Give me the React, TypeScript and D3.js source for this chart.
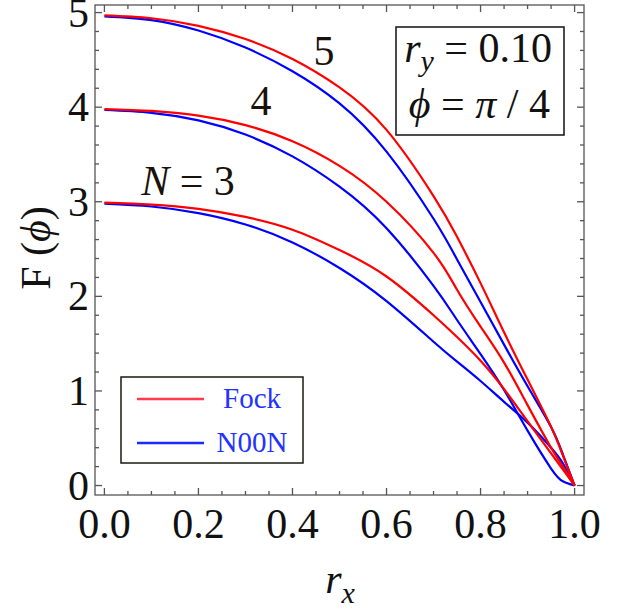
import React, { useRef, useEffect } from "react";
import * as d3 from "d3";

// r_x sample points shared by every curve
const rGrid = [0, 0.1, 0.2, 0.3, 0.4, 0.5, 0.6, 0.7, 0.75, 0.8, 0.85, 0.9, 0.95, 0.975, 1];

// Fock states (red)
const fock3 = [2.99, 2.97, 2.925, 2.84, 2.705, 2.49, 2.21, 1.8, 1.57, 1.32, 1.02, 0.68, 0.34, 0.17, 0];
const fock4 = [3.98, 3.96, 3.91, 3.81, 3.64, 3.38, 3.0, 2.46, 2.07, 1.68, 1.3, 0.85, 0.4, 0.2, 0];
const fock5 = [4.97, 4.94, 4.86, 4.72, 4.51, 4.21, 3.76, 3.06, 2.63, 2.14, 1.62, 1.12, 0.62, 0.32, 0];

// N00N states (blue)
const noon3 = [2.98, 2.95, 2.88, 2.76, 2.57, 2.3, 1.95, 1.52, 1.31, 1.105, 0.885, 0.665, 0.4, 0.235, 0];
const noon4 = [3.97, 3.94, 3.86, 3.71, 3.48, 3.16, 2.72, 2.11, 1.75, 1.39, 1.01, 0.58, 0.18, 0.045, 0];
const noon5 = [4.96, 4.92, 4.81, 4.63, 4.38, 4.04, 3.53, 2.82, 2.39, 1.94, 1.49, 1.05, 0.62, 0.33, 0];

const xTicks = [0, 0.2, 0.4, 0.6, 0.8, 1.0];
const yTicks = [0, 1, 2, 3, 4, 5];
const legendLabels = ["Fock", "N00N"];

const RED = "#ff0000";
const BLUE = "#0000ff";
const FONT =
  "'Liberation Serif', 'Times New Roman', Times, Tinos, 'Nimbus Roman', 'Nimbus Roman No9 L', FreeSerif, 'Noto Serif', 'DejaVu Serif', serif";

const App: React.FC = () => {
  const svgRef = useRef<SVGSVGElement>(null);

  useEffect(() => {
    const svg = d3.select(svgRef.current);
    svg.selectAll("*").remove();

    const left = 95, right = 584, top = 5, bottom = 495;
    const x = d3.scaleLinear().domain([-0.02, 1.02]).range([left, right]);
    const y = d3.scaleLinear().domain([-0.1, 5.08]).range([bottom, top]);

    svg.append("defs").append("clipPath").attr("id", "plotClip")
      .append("rect").attr("x", left).attr("y", top)
      .attr("width", right - left).attr("height", bottom - top);

    // curves
    const line = d3.line<number>()
      .x((_, i) => x(rGrid[i]))
      .y((d) => y(d))
      .curve(d3.curveNatural);

    const series = [
      { v: noon3, c: BLUE }, { v: noon4, c: BLUE }, { v: noon5, c: BLUE },
      { v: fock3, c: RED }, { v: fock4, c: RED }, { v: fock5, c: RED },
    ];
    svg.append("g").attr("clip-path", "url(#plotClip)")
      .selectAll("path").data(series).join("path")
      .attr("d", (d) => line(d.v))
      .attr("fill", "none")
      .attr("stroke", (d) => d.c)
      .attr("stroke-width", 2.2);

    // frame + ticks
    const frame = svg.append("g").attr("stroke", "#555").attr("stroke-width", 1.3);
    frame.append("rect").attr("x", left).attr("y", top)
      .attr("width", right - left).attr("height", bottom - top).attr("fill", "none");

    const xMinor = d3.range(0, 1.0001, 0.05);
    const isMajorX = (v: number) => Math.abs(v / 0.2 - Math.round(v / 0.2)) < 1e-6;
    xMinor.forEach((v) => {
      const len = isMajorX(v) ? 7 : 4;
      frame.append("line").attr("x1", x(v)).attr("x2", x(v)).attr("y1", bottom).attr("y2", bottom - len);
      frame.append("line").attr("x1", x(v)).attr("x2", x(v)).attr("y1", top).attr("y2", top + len);
    });
    const yMinor = d3.range(0, 5.0001, 0.2);
    yMinor.forEach((v) => {
      const len = Math.abs(v - Math.round(v)) < 1e-6 ? 7 : 4;
      frame.append("line").attr("y1", y(v)).attr("y2", y(v)).attr("x1", left).attr("x2", left + len);
      frame.append("line").attr("y1", y(v)).attr("y2", y(v)).attr("x1", right).attr("x2", right - len);
    });

    const txt = svg.append("g").attr("font-family", FONT).style("font-family", FONT);

    // tick labels
    txt.append("g").selectAll("text").data(xTicks).join("text")
      .attr("x", (d) => x(d)).attr("y", 538)
      .attr("text-anchor", "middle")
      .attr("font-size", 42).attr("fill", "#111")
      .text((d) => d.toFixed(1));
    txt.append("g").selectAll("text").data(yTicks).join("text")
      .attr("x", 89).attr("y", (d) => y(d) + 14)
      .attr("text-anchor", "end")
      .attr("font-size", 42).attr("fill", "#111")
      .text((d) => String(d));

    // axis labels
    const xl = txt.append("text").attr("x", 340).attr("y", 593)
      .attr("text-anchor", "middle")
      .attr("font-size", 42).attr("fill", "#111");
    xl.append("tspan").attr("font-style", "italic").text("r");
    xl.append("tspan").attr("font-style", "italic").attr("font-size", 30).attr("dy", 10).text("x");

    const yl = txt.append("text")
      .attr("transform", "translate(50,248) rotate(-90)")
      .attr("text-anchor", "middle")
      .attr("font-size", 42).attr("fill", "#111");
    yl.append("tspan").text("F (");
    yl.append("tspan").attr("font-style", "italic").text("ϕ");
    yl.append("tspan").text(")");

    // curve annotations
    const ann = txt.append("g").attr("font-size", 42)
      .attr("fill", "#1a1208").attr("text-anchor", "middle");
    ann.append("text").attr("x", 324).attr("y", 65).text("5");
    ann.append("text").attr("x", 261).attr("y", 115).text("4");
    const n3 = ann.append("text").attr("x", 188).attr("y", 195);
    n3.append("tspan").attr("font-style", "italic").text("N");
    n3.append("tspan").text(" = 3");

    // parameter box
    txt.append("rect").attr("x", 396).attr("y", 27).attr("width", 168).attr("height", 108)
      .attr("fill", "#fff").attr("stroke", "#111").attr("stroke-width", 1.5);
    const p1 = txt.append("text").attr("x", 552).attr("y", 62).attr("text-anchor", "end")
      .attr("font-size", 42).attr("fill", "#111");
    p1.append("tspan").attr("font-style", "italic").text("r");
    p1.append("tspan").attr("font-style", "italic").attr("font-size", 30).attr("dy", 9).text("y");
    p1.append("tspan").attr("dy", -9).text(" = 0.10");
    const p2 = txt.append("text").attr("x", 550).attr("y", 118).attr("text-anchor", "end")
      .attr("font-size", 42).attr("fill", "#111");
    p2.append("tspan").attr("font-style", "italic").text("ϕ");
    p2.append("tspan").text(" = ");
    p2.append("tspan").attr("font-style", "italic").text("π");
    p2.append("tspan").text(" / 4");

    // legend
    const lg = txt.append("g");
    lg.append("rect").attr("x", 121).attr("y", 377).attr("width", 182).attr("height", 86)
      .attr("fill", "#fff").attr("stroke", "#1a1a10").attr("stroke-width", 1.5);
    const legendColors = ["#ff3a4a", "#1a2aff"];
    const legendY = [399, 443];
    legendLabels.forEach((lab, i) => {
      lg.append("line").attr("x1", 137).attr("x2", 204)
        .attr("y1", legendY[i]).attr("y2", legendY[i])
        .attr("stroke", legendColors[i]).attr("stroke-width", 2.5);
      lg.append("text").attr("x", 252).attr("y", legendY[i] + 9)
        .attr("text-anchor", "middle")
        .attr("font-size", 29).attr("fill", "#2233ff").text(lab);
    });
  }, []);

  return (
    <svg
      ref={svgRef}
      width={632}
      height={613}
      style={{ position: "absolute", left: 0, top: 0, background: "#fff" }}
    ></svg>
  );
};

export default App;
